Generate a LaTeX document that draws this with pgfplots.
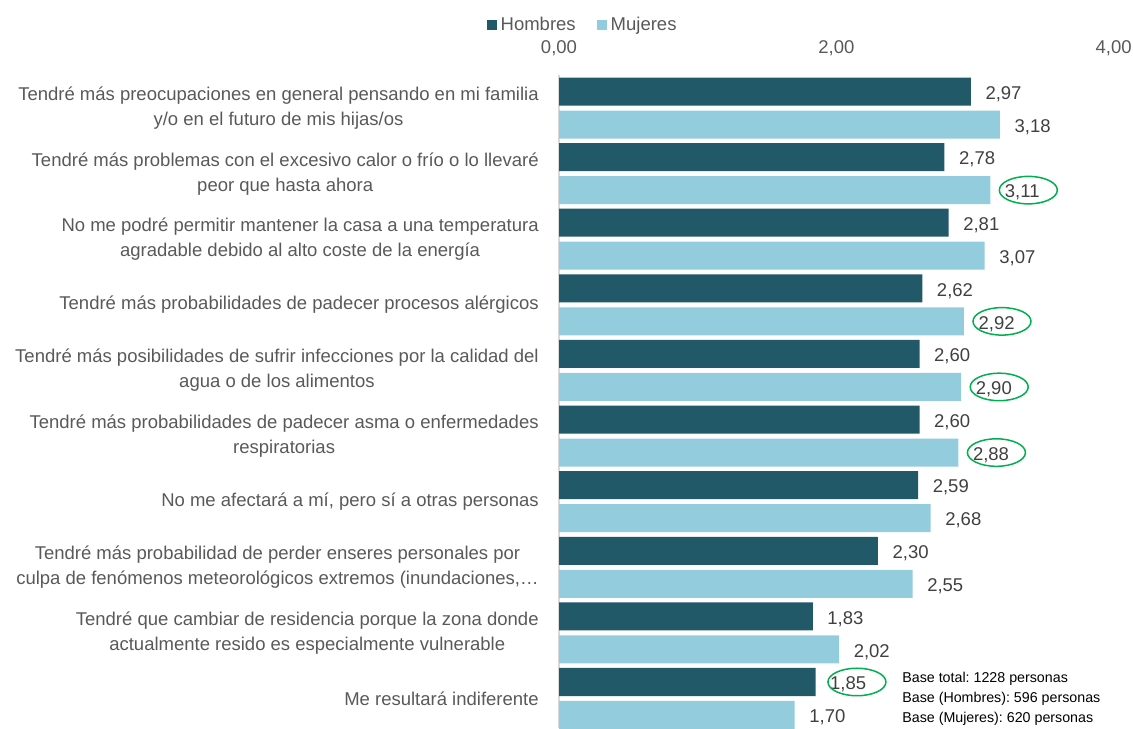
\documentclass[border=0pt]{standalone}
\usepackage{pgfplots}
\pgfplotsset{compat=1.18}
\usepackage{pgfplotstable}
\usepackage{fontspec}
\setmainfont{Liberation Sans}
\usetikzlibrary{shapes.geometric}
\definecolor{hom}{HTML}{215968}
\definecolor{muj}{HTML}{93CDDD}
\definecolor{circ}{HTML}{00B050}
\definecolor{txt}{HTML}{595959}
\definecolor{val}{HTML}{404040}

\pgfplotstableread{
y x
1 2.97
2 2.78
3 2.81
4 2.62
5 2.60
6 2.60
7 2.59
8 2.30
9 1.83
10 1.85
}\hombres
\pgfplotstableread{
y x
1 3.18
2 3.11
3 3.07
4 2.92
5 2.90
6 2.88
7 2.68
8 2.55
9 2.02
10 1.70
}\mujeres
\pgfplotstableread{
y x
10 1.85
}\homcirc
\pgfplotstableread{
y x
2 3.11
4 2.92
5 2.90
6 2.88
}\mujcirc

\begin{document}
\frenchspacing
\begin{tikzpicture}
\path[use as bounding box] (0,0) rectangle (679.8pt,-436.8pt);
\begin{axis}[
  at={(335.4pt,-45.12pt)}, anchor=north west,
  width=332.8pt, height=391.68pt, scale only axis,
  xmin=0, xmax=4, ymin=0.5, ymax=10.45, y dir=reverse,
  axis x line*=top, axis y line*=left,
  x axis line style={draw=none},
  y axis line style={draw=black!15, line width=1.2pt},
  xtick={0,2,4}, ytick={1,...,10},
  major tick length=0pt,
  xticklabel style={font=\fontsize{11.1}{13}\selectfont, text=txt, inner sep=0pt, anchor=south, yshift=11.2pt},
  yticklabel style={font=\fontsize{11.1}{15}\selectfont, text=txt, align=center, anchor=east, inner sep=0pt, xshift=-12pt},
  yticklabels={
    {Tendré más preocupaciones en general pensando en mi familia\\y/o en el futuro de mis hijas/os},
    {Tendré más problemas con el excesivo calor o frío o lo llevaré\\peor que hasta ahora},
    {No me podré permitir mantener la casa a una temperatura\\agradable debido al alto coste de la energía},
    {Tendré más probabilidades de padecer procesos alérgicos},
    {Tendré más posibilidades de sufrir infecciones por la calidad del\\agua o de los alimentos},
    {Tendré más probabilidades de padecer asma o enfermedades\\respiratorias},
    {No me afectará a mí, pero sí a otras personas},
    {Tendré más probabilidad de perder enseres personales por\\culpa de fenómenos meteorológicos extremos (inundaciones,…},
    {Tendré que cambiar de residencia porque la zona donde\\actualmente resido es especialmente vulnerable},
    {Me resultará indiferente}
  },
  /pgf/number format/.cd, fixed, fixed zerofill, precision=2, use comma, assume math mode=true, /pgfplots/.cd,
  legend style={at={(-0.1298,1.0769)}, anchor=west, draw=none, fill=none, inner sep=0pt,
    font=\fontsize{11.1}{13}\selectfont, text=txt, cells={anchor=west},
    /tikz/every even column/.append style={column sep=11pt}},
  legend columns=2,
  legend image code/.code={\fill[#1] (0pt,-3pt) rectangle (6pt,3pt);},
]
\addplot[xbar, bar width=0.427, bar shift=0, fill=hom, draw=none,
  nodes near coords, nodes near coords style={font=\fontsize{11.1}{13}\selectfont, text=val, anchor=west, inner sep=0pt, xshift=8.6pt, yshift=-1.5pt}]
  table[x=x,y expr=\thisrow{y}-0.2515]{\hombres};
\addlegendentry{Hombres}
\addplot[xbar, bar width=0.427, bar shift=0, fill=muj, draw=none,
  nodes near coords, nodes near coords style={font=\fontsize{11.1}{13}\selectfont, text=val, anchor=west, inner sep=0pt, xshift=8.6pt, yshift=-1.5pt}]
  table[x=x,y expr=\thisrow{y}+0.2515]{\mujeres};
\addlegendentry{Mujeres}
\addplot[forget plot, xbar, bar width=0.427, bar shift=0, fill=none, draw=none,
  nodes near coords={}, nodes near coords style={ellipse, draw=circ, line width=0.9pt, anchor=west, inner sep=0pt, minimum width=34.8pt, minimum height=16.5pt, xshift=7pt}]
  table[x=x,y expr=\thisrow{y}-0.2515]{\homcirc};
\addplot[forget plot, xbar, bar width=0.427, bar shift=0, fill=none, draw=none,
  nodes near coords={}, nodes near coords style={ellipse, draw=circ, line width=0.9pt, anchor=west, inner sep=0pt, minimum width=34.8pt, minimum height=16.5pt, xshift=5pt}]
  table[x=x,y expr=\thisrow{y}+0.2515]{\mujcirc};
\end{axis}
\node[anchor=north west, inner sep=0pt, align=left, font=\fontsize{8.55}{12}\selectfont, text=black] at (541.2pt,-403.2pt)
  {Base total: 1228 personas\\Base (Hombres): 596 personas\\Base (Mujeres): 620 personas};
\end{tikzpicture}
\end{document}
